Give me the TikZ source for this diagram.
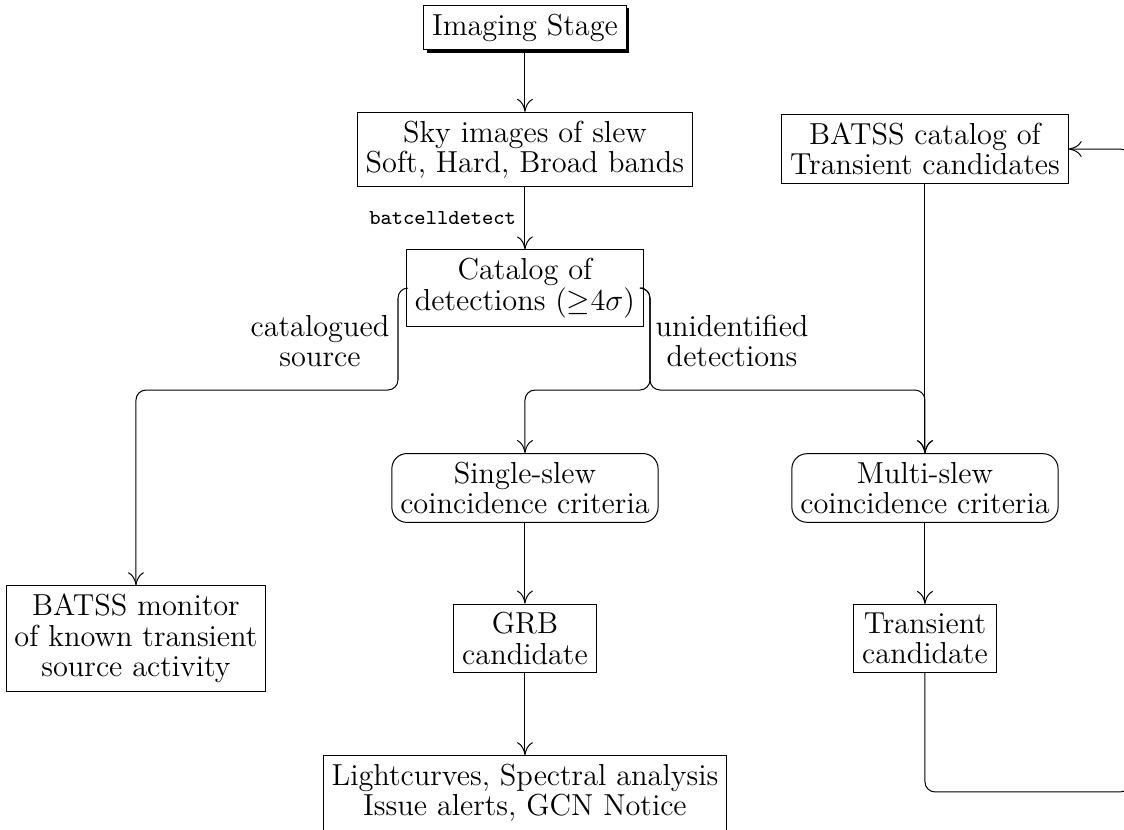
\documentclass[tikz,border=0pt]{standalone}
\usepackage{amsmath,amssymb}
\usetikzlibrary{arrows.meta,shadows}
\tikzset{
  box/.style={draw,fill=white,align=center,font=\fontsize{12}{12}\selectfont},
  rbox/.style={box,rounded corners=6pt},
  sbox/.style={box,drop shadow={opacity=1,fill=black,shadow xshift=1.2pt,shadow yshift=-1.2pt}},
  flow/.style={-{To[length=1.8mm,width=2.2mm]}},
  lnk/.style={flow,rounded corners=4pt},
  lbl/.style={align=center,font=\fontsize{12}{12}\selectfont}
}

\begin{document}
\begin{tikzpicture}
\useasboundingbox (0,0) rectangle (15.615,-11.517);
\node[sbox] (img) at (7.293,-0.382) {Imaging Stage};
\node[box] (sky) at (7.293,-2.077) {Sky images of slew\\Soft, Hard, Broad bands};
\node[box] (cat) at (7.293,-4.001) {Catalog of\\detections ($\geq$4$\sigma$)};
\node[box] (bcat) at (12.850,-2.070) {BATSS catalog of\\Transient candidates};
\node[rbox] (single) at (7.293,-6.779) {Single-slew\\coincidence criteria};
\node[rbox] (multi) at (12.850,-6.779) {Multi-slew\\coincidence criteria};
\node[box] (mon) at (1.889,-8.870) {BATSS monitor\\of known transient\\source activity};
\node[box] (grb) at (7.293,-8.870) {GRB\\candidate};
\node[box] (trans) at (12.850,-8.870) {Transient\\candidate};
\node[box] (out) at (7.293,-11.015) {Lightcurves, Spectral analysis\\Issue alerts, GCN Notice};
\node[lbl] (lcat) at (4.445,-4.737) {catalogued\\source};
\node[lbl] (lunid) at (10.170,-4.737) {unidentified\\detections};
\coordinate (jl) at (5.529,-5.418);
\coordinate (jr) at (9.030,-5.418);
\coordinate (lp) at (15.70,-11.002);
\draw[flow] (img) -- (sky);
\draw[flow] (sky) -- node[left,font=\ttfamily\fontsize{8.4}{10}\selectfont] {batcelldetect} (cat);
\draw[lnk] (cat.west) -- (cat.west -| jl) -- (jl) -- (jl -| mon) -- (mon.north);
\draw[lnk] (cat.east) -- (cat.east -| jr) -- (jr) -- (jr -| single) -- (single.north);
\draw[lnk] (cat.east) -- (cat.east -| jr) -- (jr) -- (jr -| multi) -- (multi.north);
\draw[flow] (bcat) -- (multi);
\draw[flow] (single) -- (grb);
\draw[flow] (grb) -- (out);
\draw[flow] (multi) -- (trans);
\draw[lnk] (trans.south) -- (trans.south |- lp) -- (lp) -- (lp |- bcat.east) -- (bcat.east);
\end{tikzpicture}
\end{document}
